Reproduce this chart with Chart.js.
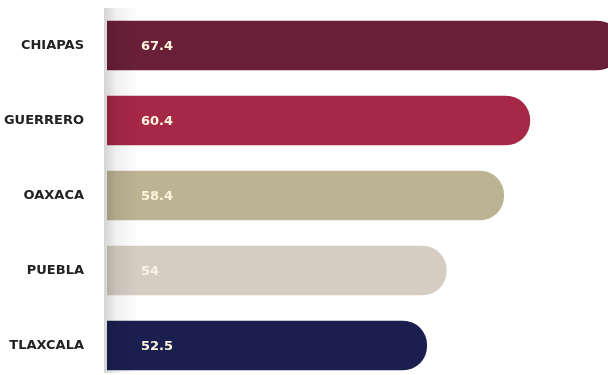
<!DOCTYPE html>
<html>
<head>
<meta charset="utf-8">
<script src="https://cdn.jsdelivr.net/npm/chart.js@4"></script>
<style>
  html, body { margin: 0; padding: 0; background: #fff; overflow: hidden; }
  #wrap { width: 608px; height: 375px; overflow: hidden; position: relative; }
  #box { position: absolute; left: 0; top: 0; width: 629px; height: 385px; }
</style>
</head>
<body>
<div id="wrap"><div id="box"><canvas id="myChart"></canvas></div></div>
<script>
const estados = ['CHIAPAS', 'GUERRERO', 'OAXACA', 'PUEBLA', 'TLAXCALA'];
const valores = [67.4, 60.4, 58.4, 54, 52.5];
const colores = ['#6a1f39', '#a52846', '#bcb393', '#d5cdc2', '#1b1f50'];
const etiquetas = ['67.4', '60.4', '58.4', '54', '52.5'];

// sombra gris a la izquierda + etiquetas dentro de las barras
const extras = {
    id: 'extras',
    afterDatasetsDraw(chart) {
        const ctx = chart.ctx;
        const area = chart.chartArea;
        ctx.save();
        const g = ctx.createLinearGradient(area.left - 3, 0, area.left + 32, 0);
        g.addColorStop(0, 'rgba(0,0,0,0.17)');
        g.addColorStop(0.35, 'rgba(0,0,0,0.06)');
        g.addColorStop(1, 'rgba(0,0,0,0)');
        ctx.fillStyle = g;
        ctx.fillRect(area.left - 3, area.top, 35, area.bottom - area.top - 10);

        ctx.font = 'bold 13px "DejaVu Sans", sans-serif';
        ctx.textAlign = 'left';
        ctx.textBaseline = 'middle';
        const yScale = chart.scales.y;
        estados.forEach((e, i) => {
            ctx.fillStyle = i === 3 ? '#f7f2ea' : '#fdf4de';
            ctx.fillText(etiquetas[i], area.left + 34, yScale.getPixelForValue(i) + 1);
        });
        ctx.restore();
    }
};

const config = {
    type: 'bar',
    data: {
        labels: estados,
        datasets: [{
            data: valores,
            backgroundColor: colores,
            barThickness: 49,
            borderRadius: 24,
            borderSkipped: 'start'
        }]
    },
    options: {
        indexAxis: 'y',
        responsive: true,
        maintainAspectRatio: false,
        animation: false,
        layout: { padding: { top: 8, bottom: 2, left: 0, right: 0 } },
        plugins: {
            legend: { display: false },
            tooltip: { enabled: false }
        },
        scales: {
            x: {
                display: false,
                min: 28,
                max: 68
            },
            y: {
                grid: { display: false, drawTicks: false },
                border: { display: false },
                afterFit(scale) {
                    scale.width = 107;
                    scale.paddingTop = 0;
                    scale.paddingBottom = 0;
                },
                ticks: {
                    padding: 23,
                    color: '#222',
                    font: { family: 'DejaVu Sans', weight: 'bold', size: 13 }
                }
            }
        }
    },
    plugins: [extras]
};

const ctx = document.getElementById('myChart').getContext('2d');
new Chart(ctx, config);
</script>
</body>
</html>
